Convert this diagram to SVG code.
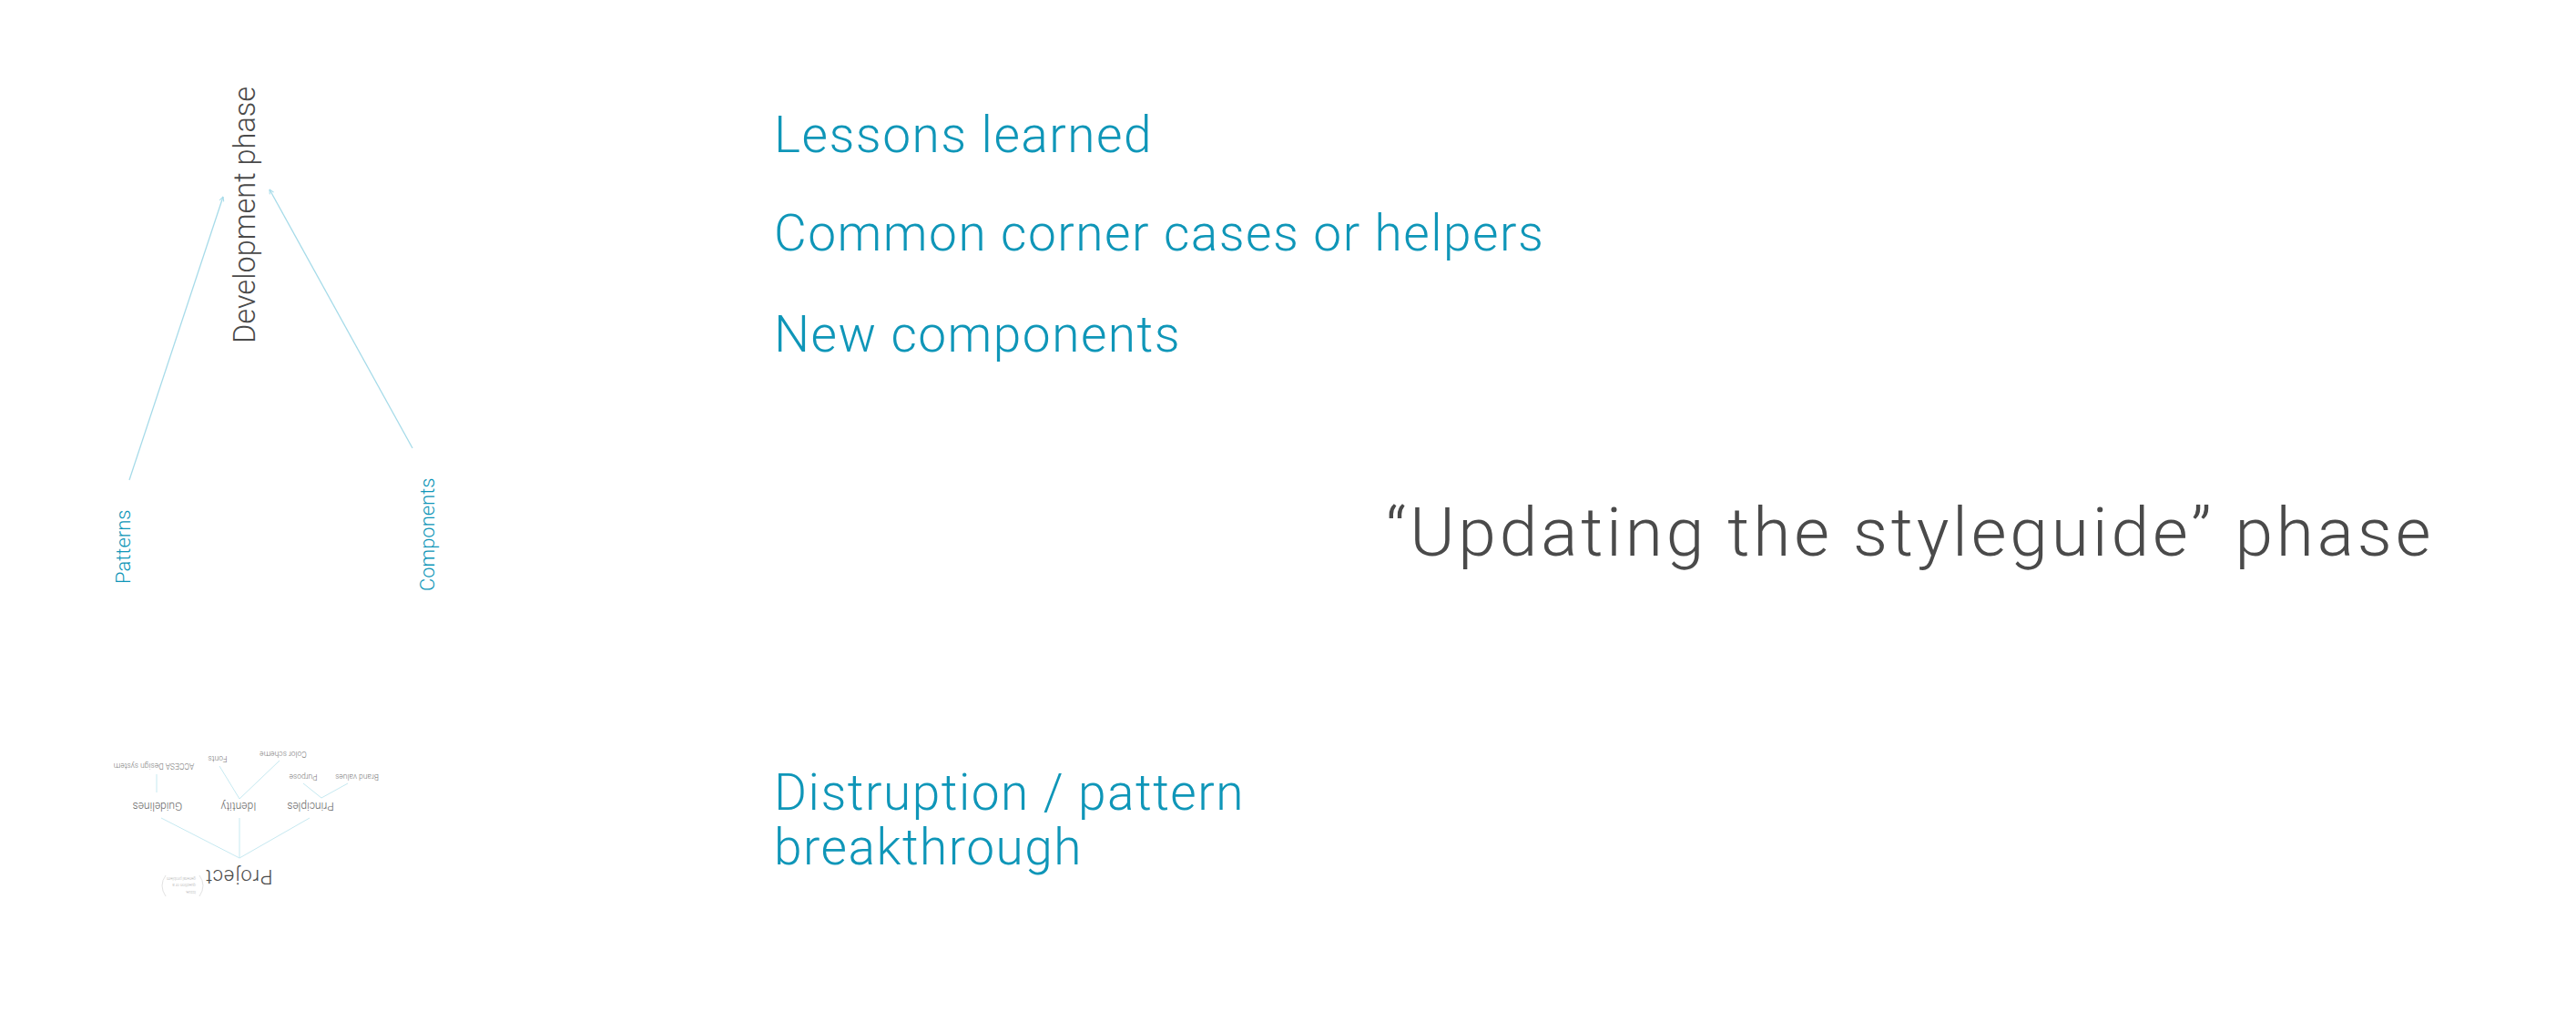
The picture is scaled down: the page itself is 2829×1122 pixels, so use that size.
<svg xmlns="http://www.w3.org/2000/svg" width="2829" height="1122" viewBox="0 0 2829 1122">
<style>
text { font-family: "Roboto Light", Roboto, "Liberation Sans", sans-serif; font-weight: 300; }
.blue { fill: #0f96b8; }
.gray { fill: #4a4a4a; }
.big { font-size: 55px; letter-spacing: 1.5px; }
.small { fill: #666; font-size: 12px; text-anchor: middle; }
.tiny { fill: #777; font-size: 8.5px; text-anchor: middle; }
.note { fill: #aaa; font-size: 4.5px; }
.conn { stroke: #a6dbe9; stroke-width: 1.3; fill: none; }
.tree { stroke: #c6e9f1; stroke-width: 1; fill: none; }
</style>
<defs>
<marker id="arr" viewBox="0 0 6 6" refX="5.5" refY="3" markerWidth="6" markerHeight="6" markerUnits="userSpaceOnUse" orient="auto">
<path d="M0.5,0.5 L5.5,3 L0.5,5.5" fill="none" stroke="#a6dbe9" stroke-width="1"/>
</marker>
</defs>
<rect width="2829" height="1122" fill="#ffffff"/>

<g id="connectors">
<line class="conn" x1="142" y1="527" x2="245" y2="216" marker-end="url(#arr)"/>
<line class="conn" x1="453" y1="492" x2="296" y2="208" marker-end="url(#arr)"/>
<line class="tree" x1="263" y1="942" x2="177" y2="898"/>
<line class="tree" x1="263" y1="942" x2="263" y2="898"/>
<line class="tree" x1="263" y1="942" x2="340" y2="898"/>
<line class="tree" x1="172" y1="870" x2="172" y2="850"/>
<line class="tree" x1="263" y1="877" x2="241" y2="841"/>
<line class="tree" x1="263" y1="877" x2="307" y2="835"/>
<line class="tree" x1="353" y1="876" x2="333" y2="860"/>
<line class="tree" x1="353" y1="876" x2="382" y2="860"/>
</g>

<g id="development-phase">
<text class="gray" font-size="32.5" transform="translate(280,377) rotate(-90)">Development phase</text>
</g>
<g id="patterns">
<text class="blue" font-size="22" transform="translate(143,641) rotate(-90)">Patterns</text>
</g>
<g id="components">
<text class="blue" font-size="22" transform="translate(477,649) rotate(-90)">Components</text>
</g>

<g id="lessons-learned">
<text class="blue big" x="850" y="167">Lessons learned</text>
</g>
<g id="corner-cases">
<text class="blue big" x="850" y="275">Common corner cases or helpers</text>
</g>
<g id="new-components">
<text class="blue big" x="850" y="386">New components</text>
</g>
<g id="disruption">
<text class="blue big" x="850" y="889">Distruption / pattern</text>
<text class="blue big" x="850" y="949">breakthrough</text>
</g>
<g id="updating-phase">
<text class="gray" font-size="75" letter-spacing="3.8" x="1522" y="610">“Updating the styleguide” phase</text>
</g>

<g id="project">
<text fill="#4a4a4a" font-size="22" letter-spacing="1" text-anchor="middle" transform="translate(262,955) rotate(180)">Project</text>
</g>
<g id="project-note">
<path d="M182,961 Q174,972 182,984" stroke="#e2e2e2" stroke-width="1" fill="none"/>
<path d="M219,961 Q227,972 219,984" stroke="#e2e2e2" stroke-width="1" fill="none"/>
<text class="note" transform="translate(215,978) rotate(180)">issue,</text>
<text class="note" transform="translate(215,970) rotate(180)">question or a</text>
<text class="note" transform="translate(215,963) rotate(180)">general problem</text>
</g>
<g id="guidelines"><text class="small" transform="translate(173,881) rotate(180)">Guidelines</text></g>
<g id="identity"><text class="small" transform="translate(262,881) rotate(180)">Identity</text></g>
<g id="principles"><text class="small" transform="translate(341,881) rotate(180)">Principles</text></g>
<g id="accesa"><text class="tiny" transform="translate(169,838) rotate(180)">ACCESA Design system</text></g>
<g id="fonts"><text class="tiny" transform="translate(239,830) rotate(180)">Fonts</text></g>
<g id="color-scheme"><text class="tiny" transform="translate(311,825) rotate(180)">Color scheme</text></g>
<g id="purpose"><text class="tiny" transform="translate(333,850) rotate(180)">Purpose</text></g>
<g id="brand-values"><text class="tiny" transform="translate(392,850) rotate(180)">Brand values</text></g>
</svg>
